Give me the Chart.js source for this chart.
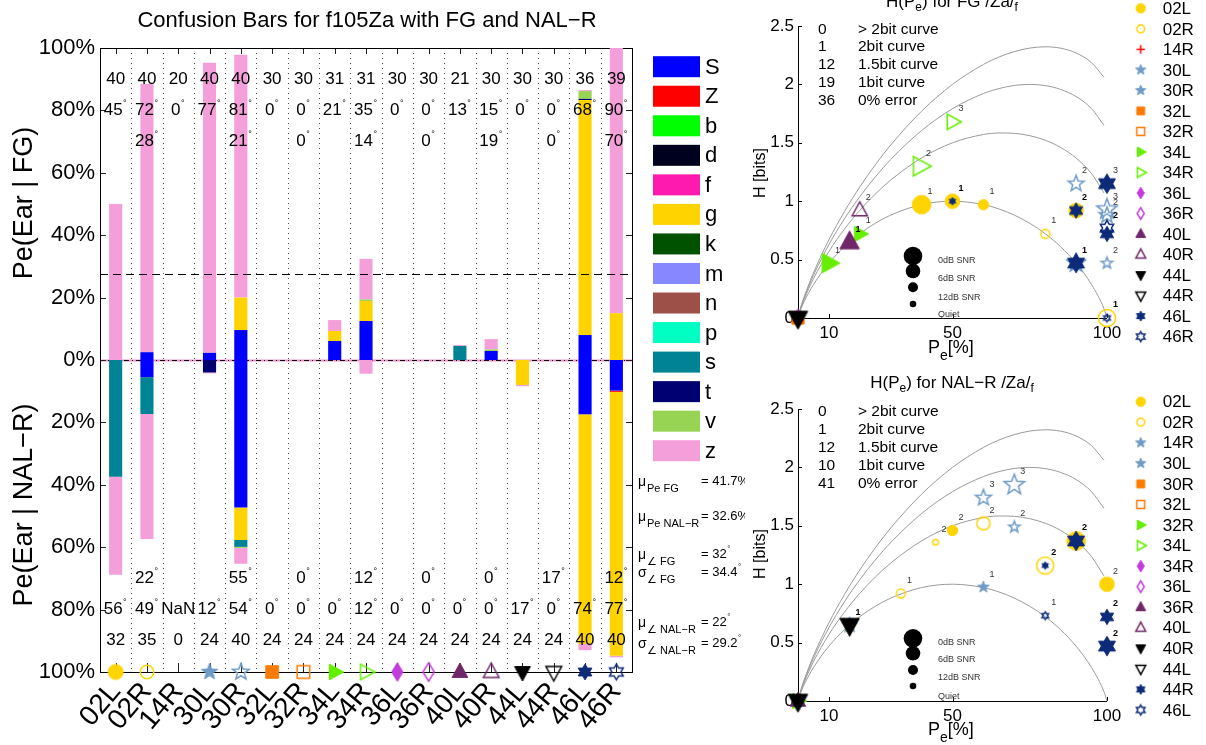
<!DOCTYPE html>
<html>
<head>
<meta charset="utf-8">
<title>Confusion Bars for f105Za with FG and NAL-R</title>
<script src="https://cdn.jsdelivr.net/npm/chart.js@4.4.1/dist/chart.umd.min.js"></script>
<style>
  html, body { margin: 0; padding: 0; background: #fff; }
  #fig { position: relative; width: 1206px; height: 745px; overflow: hidden; background: #fff; }
  #fig canvas { position: absolute; }
</style>
</head>
<body>
<div id="fig">
  <canvas id="bars" width="745" height="745" style="left:0;top:0"></canvas>
  <canvas id="hFG" width="461" height="370" style="left:745px;top:0"></canvas>
  <canvas id="hNAL" width="461" height="375" style="left:745px;top:370px"></canvas>
</div>
<script>
const FONT = '"Liberation Sans", Arimo, Arial, Helvetica, sans-serif';

// ---------- ears and their marker styles ----------
const EARS = ['02L','02R','14R','30L','30R','32L','32R','34L','34R','36L','36R','40L','40R','44L','44R','46L','46R'];
const EAR_SHAPES = ['o','o','+','p','p','s','s','>','>','d','d','^','^','v','v','h','h'];
const EAR_COLORS = ['#ffd400','#ffd400','#ff0000','#6f9bc6','#6f9bc6','#ff7b00','#ff7b00','#66ee00','#66ee00','#c23cdb','#c23cdb','#6e2768','#6e2768','#000000','#000000','#0c2a78','#0c2a78'];
const EAR_FILLED = [1,0,1,1,0,1,0,1,0,1,0,1,0,1,0,1,0];

// ---------- phones the target was confused with ----------
const PHONES = ['S','Z','b','d','f','g','k','m','n','p','s','t','v','z'];
const PHONE_COLORS = ['#0000ff','#ff0000','#00ff00','#00001f','#ff1aaf','#ffd300','#005100','#8787ff','#9c5048','#00ffc2','#008394','#000073','#98d454','#f59fda'];

// Pe (%) split by response phone, FG fitting
const FG_S = [0, 2.5, 0, 2.3, 9.6, 0, 0, 6.1, 12.5, 0, 0, 0, 2.9, 0, 0, 8.0, 0];
const FG_g = [0, 0, 0, 0, 10.4, 0, 0, 3.2, 6.4, 0, 0, 0, 0, 0, 0, 75.3, 15.0];
const FG_s = [0, 0, 0, 0, 0, 0, 0, 0, 0, 0, 0, 4.5, 0, 0, 0, 0, 0];
const FG_t = [0, 0, 0, 0, 0, 0, 0, 0, 0, 0, 0, 0, 0, 0, 0, 0.4, 0];
const FG_v = [0, 0, 0, 0, 0, 0, 0, 0, 0.5, 0, 0, 0, 0.5, 0, 0, 2.5, 0];
const FG_z = [50.0, 86.0, 0, 93.0, 77.8, 0, 0, 3.5, 13.0, 0, 0, 0.3, 3.3, 0, 0, 0.3, 85.0];

// Pe (%) split by response phone, NAL-R fitting
const NAL_S = [0, 5.5, 0, 0, 47.3, 0, 0, 0, 0, 0, 0, 0, 0, 0, 0, 17.4, 9.8];
const NAL_Z = [0, 0, 0, 0, 0, 0, 0, 0, 0, 0, 0, 0, 0, 0, 0, 0, 0.4];
const NAL_g = [0, 0, 0, 0, 10.4, 0, 0, 0, 0, 0, 0, 0, 0, 8.0, 0, 73.6, 84.6];
const NAL_s = [37.4, 11.8, 0, 0, 2.2, 0, 0, 0, 0, 0, 0, 0, 0, 0, 0, 0, 0];
const NAL_t = [0, 0, 0, 4.0, 0, 0, 0, 0, 0, 0, 0, 0, 0, 0, 0, 0, 0];
const NAL_v = [0, 0, 0, 0, 0.3, 0, 0, 0, 0, 0, 0, 0, 0, 0, 0, 0, 0];
const NAL_z = [31.4, 40.1, 0, 0.3, 5.1, 0, 0, 0, 4.4, 0, 0, 0, 0, 0.4, 0, 2.0, 0.5];

// numbers printed over each ear: trial counts and angles (deg)
const FG_N    = [40,40,20,40,40,30,30,31,31,30,30,21,30,30,30,36,39];
const FG_ANG  = [45,72,0,77,81,0,0,21,35,0,0,13,15,0,0,68,90];
const FG_ANG2 = [null,28,null,null,21,null,0,null,14,null,0,null,19,null,0,null,70];
const NAL_ANG2 = [null,22,null,null,55,null,0,null,12,null,0,null,0,null,17,null,12];
const NAL_ANG = [56,49,NaN,12,54,0,0,0,12,0,0,0,0,17,0,74,77];
const NAL_N   = [32,35,0,24,40,24,24,24,24,24,24,24,24,24,24,40,40];
const PE_REF_LINE = 27.5;

// summary statistics
const STAT_SYM = ['\u03bc','\u03bc','\u03bc','\u03c3','\u03bc','\u03c3'];
const STAT_SUB = ['Pe FG','Pe NAL\u2212R','\u2220 FG','\u2220 FG','\u2220 NAL\u2212R','\u2220 NAL\u2212R'];
const STAT_VAL = ['41.7%','32.6%','32','34.4','22','29.2'];
const STAT_DEG = [0,0,1,1,1,1];

// ---------- entropy reference curves H(Pe) ----------
const H_PE    = [0,1,2,5,10,15,20,25,30,40,50,60,65,70,75,80,85,90,95,99,100];
const H_1BIT  = [0,0.081,0.141,0.286,0.469,0.610,0.722,0.811,0.881,0.971,1.000,0.971,0.934,0.881,0.811,0.722,0.610,0.469,0.286,0.081,0];
const H_15BIT = [0,0.091,0.161,0.336,0.569,0.760,0.922,1.061,1.181,1.371,1.500,1.571,1.584,1.581,1.561,1.522,1.460,1.369,1.236,1.071,null];
const H_2BIT  = [0,0.097,0.173,0.365,0.628,0.848,1.039,1.207,1.357,1.605,1.792,1.922,1.964,1.991,2.000,1.990,1.957,1.896,1.792,1.650,null];
const H_GT2BIT= [0,0.101,0.181,0.386,0.669,0.910,1.122,1.311,1.481,1.771,2.000,2.171,2.234,2.281,2.311,2.322,2.310,2.269,2.186,2.061,null];
const PE_TICKS = [10, 50, 100];
const CURVE_NAMES = ['> 2bit curve','2bit curve','1.5bit curve','1bit curve','0% error'];
const FG_CURVE_COUNTS  = ['0','1','12','19','36'];
const NAL_CURVE_COUNTS = ['0','1','12','10','41'];
const SNR_NAMES = ['0dB SNR','6dB SNR','12dB SNR','Quiet'];

// H(Pe) points, FG: ear index, Pe (%), H (bits), SNR level (0=0dB..3=quiet), tag, bold tag
const FG_PT_EAR  = [0,0,0,0,1,1,3,4,4,4,4,7,7,8,8,11,12,15,15,15,15,15,16,16,5,9,13];
const FG_PT_PE   = [40,50,60,90,80,100,90,90,100,100,100,10,20,39.5,50,16.7,20,50,90,100,90,100,100,100,0,0,0];
const FG_PT_H    = [0.97,1.00,0.97,0.92,0.72,0,0.47,1.15,0.93,0.88,0.47,0.47,0.72,1.30,1.68,0.65,0.92,1.00,0.92,1.15,0.47,0.72,0.77,0,0,0,0];
const FG_PT_SNR  = [0,1,2,1,2,0,0,1,0,1,2,0,1,0,1,0,1,3,1,0,0,1,1,3,1,1,0];
const FG_PT_TAG  = ['1','','1','','1','','','2','3','2','2','1','1','2','3','1','2','1','2','3','1','','2','1','','',''];
const FG_PT_BOLD = [0,0,0,0,0,0,0,0,0,0,0,0,0,0,0,1,0,1,1,0,1,0,1,1,0,0,0];

// H(Pe) points, NAL-R
const NAL_PT_EAR  = [0,0,0,1,1,1,1,4,4,4,3,3,7,13,15,15,15,15,16,7,11,5,13];
const NAL_PT_PE   = [50,100,90,44.5,60,33.3,80,70,60,70,60,16.7,16.7,16.7,90,80,100,100,80,0,0,0,0];
const NAL_PT_H    = [1.46,1.00,1.37,1.36,1.52,0.92,1.16,1.85,1.74,1.49,0.975,0.65,0.65,0.65,1.37,1.16,0.72,0.47,0.73,0,0,0,0];
const NAL_PT_SNR  = [2,1,0,3,1,2,0,0,1,2,2,1,2,0,0,3,1,0,3,1,1,2,0];
const NAL_PT_TAG  = ['2','2','','2','2','1','2','3','3','2','1','','','1','2','','2','2','1','','','',''];
const NAL_PT_BOLD = [0,0,0,0,0,0,1,0,0,0,0,0,0,1,1,0,1,1,0,0,0,0,0];

// legend entries of the two H(Pe) panels
const FG_LEGEND_EARS   = [0,1,2,3,4,5,6,7,8,9,10,11,12,13,14,15,16];
const FG_LEGEND_FILLED = [1,0,1,1,1,1,0,1,0,1,0,1,0,1,0,1,0];
const NAL_LEGEND_LABELS = ['02L','02R','14R','30L','30R','32L','32R','34L','34R','36L','36R','40L','40R','44L','44R','46L'];
const NAL_LEGEND_EARS   = [0,1,3,4,5,6,7,8,9,10,11,12,13,14,15,16];
const NAL_LEGEND_FILLED = [1,0,1,1,1,0,1,0,1,0,1,0,1,0,1,0];

// ---------- marker images ----------
const SHAPE_SCALE = {o:1, '+':0.9, p:1.15, s:1.05, '>':1.2, d:1.25, '^':1.2, v:1.2, h:1.05};
const SNR_R = [9.3, 7.3, 5.2, 3.6];
const markerCache = new Map();
function makeMarker(shape, r, color, filled) {
  const lw = filled ? 1 : 1.5;
  const s = Math.ceil(2 * r + lw + 3);
  const c = document.createElement('canvas');
  c.width = s; c.height = s;
  const g = c.getContext('2d');
  g.translate(s / 2, s / 2);
  g.beginPath();
  const poly = pts => { pts.forEach(([x, y], i) => i ? g.lineTo(x, y) : g.moveTo(x, y)); g.closePath(); };
  const star = (n, ro, ri) => {
    const a = [];
    for (let k = 0; k < 2 * n; k++) {
      const ang = -Math.PI / 2 + k * Math.PI / n, rr = k % 2 ? ri : ro;
      a.push([rr * Math.cos(ang), rr * Math.sin(ang)]);
    }
    return a;
  };
  switch (shape) {
    case 'o': g.arc(0, 0, filled ? r : r - lw / 2, 0, 2 * Math.PI); break;
    case 's': { const h = r * 0.8; g.rect(-h, -h, 2 * h, 2 * h); break; }
    case 'd': poly([[0, -r], [r * 0.6, 0], [0, r], [-r * 0.6, 0]]); break;
    case '^': poly([[0, -r], [r * 0.87, r * 0.6], [-r * 0.87, r * 0.6]]); break;
    case 'v': poly([[0, r], [r * 0.87, -r * 0.6], [-r * 0.87, -r * 0.6]]); break;
    case '>': poly([[r, 0], [-r * 0.6, r * 0.87], [-r * 0.6, -r * 0.87]]); break;
    case 'p': poly(star(5, r, r * 0.42)); break;
    case 'h': poly(star(6, r, r * 0.58)); break;
    case '+': g.moveTo(-r, 0); g.lineTo(r, 0); g.moveTo(0, -r); g.lineTo(0, r); break;
  }
  g.strokeStyle = color;
  if (shape === '+') { g.lineWidth = 1.5; g.stroke(); }
  else if (filled) { g.fillStyle = color; g.fill(); g.lineWidth = 1; g.stroke(); }
  else { g.lineWidth = lw; g.stroke(); }
  return c;
}
function earMarker(i, base, filled) {
  const sh = EAR_SHAPES[i];
  const f = filled === undefined ? EAR_FILLED[i] : filled;
  const r = base * SHAPE_SCALE[sh];
  const key = [sh, r.toFixed(2), EAR_COLORS[i], f].join('|');
  if (!markerCache.has(key)) markerCache.set(key, makeMarker(sh, r, EAR_COLORS[i], !!f));
  return markerCache.get(key);
}

// text with subscripts: parts = [[text, isSub], ...]
function subText(ctx, parts, x, base, size, subSize, subDrop, align) {
  let w = 0;
  parts.forEach(([t, sub]) => { ctx.font = (sub ? subSize : size) + 'px ' + FONT; w += ctx.measureText(t).width; });
  let cx = align === 'center' ? x - w / 2 : x;
  ctx.textAlign = 'left'; ctx.textBaseline = 'alphabetic';
  parts.forEach(([t, sub]) => {
    ctx.font = (sub ? subSize : size) + 'px ' + FONT;
    ctx.fillText(t, cx, base + (sub ? subDrop : 0));
    cx += ctx.measureText(t).width;
  });
  return cx;
}
function textWidth(ctx, t, size) {
  const f = ctx.font; ctx.font = size + 'px ' + FONT;
  const w = ctx.measureText(t).width; ctx.font = f; return w;
}

// ---------- confusion bar chart ----------
const FG_BY_PHONE  = { S: FG_S, g: FG_g, s: FG_s, t: FG_t, v: FG_v, z: FG_z };
const NAL_BY_PHONE = { S: NAL_S, Z: NAL_Z, g: NAL_g, s: NAL_s, t: NAL_t, v: NAL_v, z: NAL_z };
const ZEROS = EARS.map(() => 0);

const barSets = [];
PHONES.forEach((ph, k) => {
  const common = { type: 'bar', stack: 'pe', backgroundColor: PHONE_COLORS[k], borderWidth: 0,
                   barPercentage: 0.42, categoryPercentage: 1 };
  barSets.push(Object.assign({ label: ph + ' FG', data: (FG_BY_PHONE[ph] || ZEROS).slice() }, common));
  barSets.push(Object.assign({ label: ph + ' NAL-R', data: (NAL_BY_PHONE[ph] || ZEROS).map(v => -v) }, common));
});
const earMarks = {
  type: 'line', label: 'ears', stack: 'marks', showLine: false, clip: false, order: -1,
  data: EARS.map((e, i) => EAR_SHAPES[i] === '+' ? null : -100),
  pointStyle: EARS.map((e, i) => earMarker(i, 7.5)),
  pointRadius: 8
};

function degText(ctx, txt, cx, cy, deg) {
  ctx.font = '17px ' + FONT;
  const w = ctx.measureText(txt).width;
  const dw = deg ? 5 : 0;
  const x0 = cx - (w + dw) / 2;
  ctx.textAlign = 'left'; ctx.textBaseline = 'middle';
  ctx.fillText(txt, x0, cy);
  if (deg) { ctx.font = '9px ' + FONT; ctx.fillText('\u00b0', x0 + w + 0.5, cy - 7); }
}

const barDecor = {
  id: 'barDecor',
  beforeDatasetsDraw(chart) {
    const { ctx, chartArea: a, scales: { x, y } } = chart;
    const step = x.getPixelForValue(1) - x.getPixelForValue(0);
    ctx.save();
    // dotted separators between ears
    ctx.strokeStyle = '#444'; ctx.lineWidth = 1; ctx.setLineDash([1, 4]);
    for (let i = 1; i < EARS.length; i++) {
      const px = Math.round(x.getPixelForValue(i) - step / 2) + 0.5;
      ctx.beginPath(); ctx.moveTo(px, a.top); ctx.lineTo(px, a.bottom); ctx.stroke();
    }
    ctx.setLineDash([]);
    // zero line
    const y0 = Math.round(y.getPixelForValue(0)) + 0.5;
    ctx.strokeStyle = '#f08fd0'; ctx.lineWidth = 2;
    ctx.beginPath(); ctx.moveTo(a.left, y0); ctx.lineTo(a.right, y0); ctx.stroke();
    ctx.strokeStyle = '#000'; ctx.lineWidth = 1; ctx.setLineDash([5, 3, 1, 3]);
    ctx.beginPath(); ctx.moveTo(a.left, y0); ctx.lineTo(a.right, y0); ctx.stroke();
    ctx.setLineDash([]);
    // inward ticks
    ctx.strokeStyle = '#222'; ctx.lineWidth = 1;
    ctx.beginPath();
    y.ticks.forEach(t => {
      const py = Math.round(y.getPixelForValue(t.value)) + 0.5;
      ctx.moveTo(a.left, py); ctx.lineTo(a.left + 6, py);
      ctx.moveTo(a.right, py); ctx.lineTo(a.right - 6, py);
    });
    EARS.forEach((e, i) => {
      const px = Math.round(x.getPixelForValue(i)) + 0.5;
      ctx.moveTo(px, a.top); ctx.lineTo(px, a.top + 6);
      ctx.moveTo(px, a.bottom); ctx.lineTo(px, a.bottom - 9);
    });
    ctx.stroke();
    // frame
    ctx.strokeStyle = '#000';
    ctx.strokeRect(a.left + 0.5, a.top + 0.5, a.right - a.left, a.bottom - a.top);
    ctx.restore();
  },
  afterDatasetsDraw(chart) {
    const { ctx, chartArea: a, scales: { x, y } } = chart;
    ctx.save();
    // reference Pe line
    const yr = Math.round(y.getPixelForValue(PE_REF_LINE)) + 0.5;
    ctx.strokeStyle = '#000'; ctx.lineWidth = 1.2; ctx.setLineDash([8, 5]);
    ctx.beginPath(); ctx.moveTo(a.left, yr); ctx.lineTo(a.right, yr); ctx.stroke();
    ctx.setLineDash([]);
    // counts and angles
    ctx.fillStyle = '#000';
    EARS.forEach((e, i) => {
      const cx = x.getPixelForValue(i);
      degText(ctx, String(FG_N[i]), cx, y.getPixelForValue(90), false);
      degText(ctx, String(FG_ANG[i]), cx, y.getPixelForValue(80), true);
      if (FG_ANG2[i] !== null) degText(ctx, String(FG_ANG2[i]), cx, y.getPixelForValue(70), true);
      if (NAL_ANG2[i] !== null) degText(ctx, String(NAL_ANG2[i]), cx, y.getPixelForValue(-70), true);
      const na = NAL_ANG[i];
      degText(ctx, isNaN(na) ? 'NaN' : String(na), cx, y.getPixelForValue(-80), !isNaN(na));
      degText(ctx, String(NAL_N[i]), cx, y.getPixelForValue(-90), false);
    });
    // title
    ctx.font = '22px ' + FONT; ctx.textAlign = 'center'; ctx.textBaseline = 'alphabetic';
    ctx.fillText('Confusion Bars for f105Za with FG and NAL\u2212R', 367, 26.5);
    // axis titles
    ctx.font = '27px ' + FONT;
    ctx.save(); ctx.translate(32, 203); ctx.rotate(-Math.PI / 2);
    ctx.fillText('Pe(Ear | FG)', 0, 0); ctx.restore();
    ctx.save(); ctx.translate(32, 505); ctx.rotate(-Math.PI / 2);
    ctx.fillText('Pe(Ear | NAL\u2212R)', 0, 0); ctx.restore();
    // phone legend
    PHONES.forEach((ph, k) => {
      const cy = 66.7 + k * 29.54;
      ctx.fillStyle = PHONE_COLORS[k];
      ctx.fillRect(653, cy - 10.5, 47, 21);
      ctx.fillStyle = '#000'; ctx.font = '22px ' + FONT;
      ctx.textAlign = 'left'; ctx.textBaseline = 'middle';
      ctx.fillText(ph, 705, cy + 1);
    });
    // summary statistics
    const base = [486, 521, 559, 577, 627, 648];
    STAT_SYM.forEach((s, k) => {
      ctx.fillStyle = '#000'; ctx.textAlign = 'left'; ctx.textBaseline = 'alphabetic';
      ctx.font = '14px ' + FONT; ctx.fillText(s, 638, base[k]);
      ctx.font = '11px ' + FONT; ctx.fillText(STAT_SUB[k], 647, base[k] + 6);
      ctx.font = '13px ' + FONT;
      const txt = '= ' + STAT_VAL[k];
      ctx.fillText(txt, 701, base[k] - 1);
      if (STAT_DEG[k]) {
        const w = textWidth(ctx, txt, 13);
        ctx.font = '8px ' + FONT; ctx.fillText('\u00b0', 701 + w + 0.5, base[k] - 8);
      }
    });
    ctx.restore();
  }
};

new Chart(document.getElementById('bars'), {
  type: 'bar',
  data: { labels: EARS, datasets: [earMarks, ...barSets] },
  options: {
    responsive: false, animation: false, devicePixelRatio: 1, events: [],
    layout: { padding: { top: 48, right: 113, left: 0, bottom: 0 } },
    plugins: { legend: { display: false }, tooltip: { enabled: false }, title: { display: false } },
    scales: {
      x: {
        stacked: true, offset: true,
        grid: { display: false, drawTicks: false }, border: { display: false },
        ticks: { font: { family: FONT, size: 28 }, color: '#000', maxRotation: 50, minRotation: 50, autoSkip: false, padding: 4 },
        afterFit: s => { s.height = 73; }
      },
      y: {
        stacked: true, min: -100, max: 100,
        grid: { display: false, drawTicks: false }, border: { display: false },
        ticks: { stepSize: 20, font: { family: FONT, size: 22 }, color: '#000', padding: 5,
                 callback: v => Math.abs(v) + '%' },
        afterFit: s => { s.width = 100; }
      }
    }
  },
  plugins: [barDecor]
});

// ---------- H(Pe) panels ----------
function entropyChart(id, cfg) {
  const byEar = new Map();
  cfg.ear.forEach((e, j) => { if (!byEar.has(e)) byEar.set(e, []); byEar.get(e).push(j); });
  const sets = [];
  byEar.forEach((idx, e) => {
    sets.push({
      type: 'scatter', label: EARS[e], clip: false, order: 20 - e,
      data: idx.map(j => ({ x: cfg.pe[j], y: cfg.h[j] })),
      pointStyle: idx.map(j => earMarker(e, SNR_R[cfg.snr[j]])),
      pointRadius: 6,
      tags: idx.map(j => cfg.tag[j]), bold: idx.map(j => cfg.bold[j])
    });
  });
  [H_GT2BIT, H_2BIT, H_15BIT, H_1BIT].forEach(curve => {
    const pts = [];
    H_PE.forEach((p, k) => { if (curve[k] !== null) pts.push({ x: p, y: curve[k] }); });
    sets.push({ type: 'line', data: pts, borderColor: '#9a9a9a', borderWidth: 1, pointRadius: 0,
                cubicInterpolationMode: 'monotone', order: 50, clip: false });
  });
  const H = cfg.height;
  const decor = {
    id: 'hDecor',
    beforeDatasetsDraw(chart) {
      const { ctx, chartArea: a, scales: { x, y } } = chart;
      ctx.save();
      ctx.strokeStyle = '#000'; ctx.lineWidth = 1;
      ctx.beginPath();
      ctx.moveTo(a.left + 0.5, a.top); ctx.lineTo(a.left + 0.5, a.bottom + 0.5); ctx.lineTo(a.right, a.bottom + 0.5);
      y.ticks.forEach(t => { const py = Math.round(y.getPixelForValue(t.value)) + 0.5; ctx.moveTo(a.left, py); ctx.lineTo(a.left + 4, py); });
      x.ticks.forEach(t => { const px = Math.round(x.getPixelForValue(t.value)) + 0.5; ctx.moveTo(px, a.bottom); ctx.lineTo(px, a.bottom - 4); });
      ctx.stroke();
      ctx.restore();
    },
    afterDatasetsDraw(chart) {
      const { ctx } = chart;
      ctx.save();
      // point tags
      chart.data.datasets.forEach((ds, i) => {
        if (!ds.tags) return;
        chart.getDatasetMeta(i).data.forEach((el, j) => {
          const t = ds.tags[j]; if (!t) return;
          ctx.font = (ds.bold[j] ? 'bold ' : '') + '9px ' + FONT;
          ctx.fillStyle = ds.bold[j] ? '#000' : '#333';
          ctx.textAlign = 'left'; ctx.textBaseline = 'middle';
          ctx.fillText(t, el.x + 6, el.y - 13);
        });
      });
      ctx.fillStyle = '#000';
      // title
      subText(ctx, [['H(P', 0], ['e', 1], [cfg.titleMid, 0], ['f', 1]], 207, cfg.titleBase, 17, 12, 4, 'center');
      // curve table
      ctx.font = '15.5px ' + FONT; ctx.textAlign = 'left'; ctx.textBaseline = 'middle';
      CURVE_NAMES.forEach((n, k) => {
        const cy = cfg.tableTop + k * cfg.tableStep;
        ctx.fillText(cfg.counts[k], 73, cy);
        ctx.fillText(n, 113, cy);
      });
      // SNR size key
      SNR_NAMES.forEach((n, k) => {
        ctx.fillStyle = '#000';
        ctx.beginPath(); ctx.arc(168, cfg.snrY[k], [9.3, 7.3, 5, 3.3][k], 0, 2 * Math.PI); ctx.fill();
        ctx.fillStyle = '#333'; ctx.font = '9px ' + FONT; ctx.textBaseline = 'middle';
        ctx.fillText(n, 193, cfg.snrLabY[k]);
      });
      // ear legend
      cfg.legEars.forEach((e, k) => {
        const cy = cfg.legTop + k * cfg.legStep;
        const img = earMarker(e, 4.7, cfg.legFilled[k]);
        ctx.drawImage(img, 395.7 - img.width / 2, cy - img.height / 2);
        ctx.fillStyle = '#000'; ctx.font = '17px ' + FONT; ctx.textBaseline = 'middle'; ctx.textAlign = 'left';
        ctx.fillText(cfg.legLabels[k], 417.7, cy + 1);
      });
      // axis titles
      ctx.fillStyle = '#000';
      subText(ctx, [['P', 0], ['e', 1], ['[%]', 0]], 183, cfg.xTitleBase, 18, 14, 7, 'left');
      ctx.save();
      ctx.translate(16, cfg.yTitleY); ctx.rotate(-Math.PI / 2);
      ctx.font = '16px ' + FONT; ctx.textAlign = 'center'; ctx.textBaseline = 'middle';
      ctx.fillText('H [bits]', 0, 0);
      ctx.restore();
      ctx.restore();
    }
  };
  return new Chart(document.getElementById(id), {
    type: 'scatter',
    data: { datasets: sets },
    options: {
      responsive: false, animation: false, devicePixelRatio: 1, events: [],
      layout: { padding: { top: cfg.areaTop, right: 99, left: 0, bottom: 0 } },
      plugins: { legend: { display: false }, tooltip: { enabled: false } },
      scales: {
        x: {
          type: 'linear', min: 0, max: 100,
          grid: { display: false, drawTicks: false }, border: { display: false },
          afterBuildTicks: s => { s.ticks = PE_TICKS.map(v => ({ value: v })); },
          ticks: { font: { family: FONT, size: 17 }, color: '#000', padding: 5, maxRotation: 0, autoSkip: false },
          afterFit: s => { s.height = H - cfg.areaBottom; }
        },
        y: {
          type: 'linear', min: 0, max: 2.5,
          grid: { display: false, drawTicks: false }, border: { display: false },
          ticks: { stepSize: 0.5, font: { family: FONT, size: 17 }, color: '#000', padding: 4,
                   callback: v => String(Math.round(v * 10) / 10) },
          afterFit: s => { s.width = 53; }
        }
      }
    },
    plugins: [decor]
  });
}

entropyChart('hFG', {
  ear: FG_PT_EAR, pe: FG_PT_PE, h: FG_PT_H, snr: FG_PT_SNR, tag: FG_PT_TAG, bold: FG_PT_BOLD,
  height: 370, areaTop: 26, areaBottom: 318,
  titleMid: ') for FG /Za/', titleBase: 7,
  counts: FG_CURVE_COUNTS, tableTop: 29.3, tableStep: 17.85,
  snrY: [256, 271, 287.3, 304], snrLabY: [260.7, 279, 297.3, 314.3],
  legEars: FG_LEGEND_EARS, legFilled: FG_LEGEND_FILLED, legLabels: EARS, legTop: 8.3, legStep: 20.52,
  xTitleBase: 352.5, yTitleY: 173
});
entropyChart('hNAL', {
  ear: NAL_PT_EAR, pe: NAL_PT_PE, h: NAL_PT_H, snr: NAL_PT_SNR, tag: NAL_PT_TAG, bold: NAL_PT_BOLD,
  height: 375, areaTop: 39, areaBottom: 331,
  titleMid: ') for NAL\u2212R /Za/', titleBase: 18,
  counts: NAL_CURVE_COUNTS, tableTop: 41.7, tableStep: 18.1,
  snrY: [268.3, 283.3, 300, 316], snrLabY: [272.7, 290, 308, 326.7],
  legEars: NAL_LEGEND_EARS, legFilled: NAL_LEGEND_FILLED, legLabels: NAL_LEGEND_LABELS, legTop: 31.7, legStep: 20.55,
  xTitleBase: 365, yTitleY: 184
});
</script>
</body>
</html>
